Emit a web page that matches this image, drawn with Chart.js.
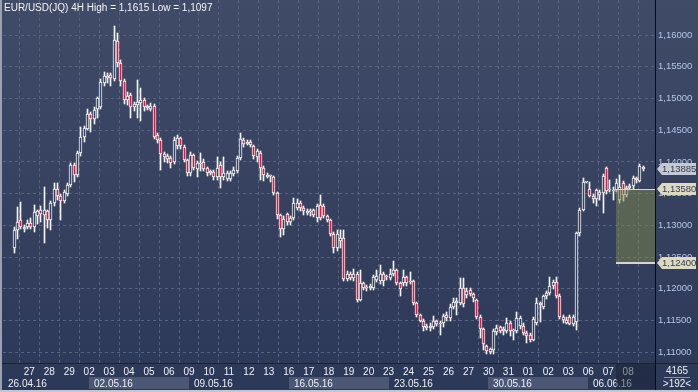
<!DOCTYPE html>
<html>
<head>
<meta charset="utf-8">
<script src="https://cdn.jsdelivr.net/npm/chart.js@4.4.1/dist/chart.umd.min.js"></script>
<style>
  html, body { margin: 0; padding: 0; background: #34405e; }
</style>
</head>
<body>
<canvas id="chart" width="698" height="392"></canvas>
<script>
// EUR/USD 4H, 26.04.16 - 08.06.16, bar index 1..190
const titleText = 'EUR/USD(JQ) 4H High = 1,1615 Low = 1,1097';

const opens = [
  1.1265, 1.1292, 1.1308, 1.1295, 1.1297, 1.1303, 1.1298, 1.1315, 1.1325, 1.1316,
  1.1322, 1.1309, 1.1335, 1.1357, 1.1347, 1.1338, 1.1350, 1.1364, 1.1395, 1.1380,
  1.1414, 1.1439, 1.1452, 1.1475, 1.1467, 1.1483, 1.1487, 1.1524, 1.1532, 1.1537,
  1.1530, 1.1590, 1.1556, 1.1527, 1.1498, 1.1505, 1.1487, 1.1490, 1.1493, 1.1498,
  1.1488, 1.1484, 1.1488, 1.1442, 1.1434, 1.1413, 1.1405, 1.1406, 1.1400, 1.1425,
  1.1437, 1.1424, 1.1403, 1.1383, 1.1411, 1.1389, 1.1398, 1.1400, 1.1390, 1.1383,
  1.1384, 1.1377, 1.1395, 1.1376, 1.1373, 1.1373, 1.1381, 1.1385, 1.1406, 1.1434,
  1.1428, 1.1432, 1.1425, 1.1408, 1.1414, 1.1390, 1.1377, 1.1378, 1.1376, 1.1351,
  1.1316, 1.1295, 1.1318, 1.1305, 1.1312, 1.1328, 1.1336, 1.1328, 1.1320, 1.1321,
  1.1324, 1.1311, 1.1332, 1.1331, 1.1314, 1.1308, 1.1286, 1.1265, 1.1276, 1.1280,
  1.1216, 1.1224, 1.1217, 1.1224, 1.1183, 1.1209, 1.1201, 1.1202, 1.1201, 1.1214,
  1.1212, 1.1224, 1.1218, 1.1217, 1.1224, 1.1230, 1.1209, 1.1209, 1.1218, 1.1210,
  1.1212, 1.1178, 1.1159, 1.1150, 1.1138, 1.1138, 1.1140, 1.1149, 1.1145, 1.1146,
  1.1159, 1.1154, 1.1172, 1.1178, 1.1178, 1.1201, 1.1190, 1.1198, 1.1192, 1.1182,
  1.1156, 1.1136, 1.1110, 1.1101, 1.1104, 1.1132, 1.1140, 1.1133, 1.1133, 1.1146,
  1.1133, 1.1133, 1.1141, 1.1141, 1.1131, 1.1128, 1.1120, 1.1146, 1.1177, 1.1172,
  1.1188, 1.1193, 1.1204, 1.1210, 1.1189, 1.1156, 1.1146, 1.1156, 1.1145, 1.1148,
  1.1288, 1.1325, 1.1368, 1.1357, 1.1347, 1.1341, 1.1352, 1.1351, 1.1390, 1.1355,
  1.1354, 1.1356, 1.1340, 1.1367, 1.1348, 1.1359, 1.1362, 1.1375, 1.1370, 1.1392
];
const highs = [
  1.1298, 1.1329, 1.1337, 1.1300, 1.1308, 1.1311, 1.1332, 1.1325, 1.1330, 1.1361,
  1.1325, 1.1338, 1.1367, 1.1366, 1.1350, 1.1355, 1.1367, 1.1398, 1.1398, 1.1418,
  1.1455, 1.1456, 1.1483, 1.1478, 1.1486, 1.1503, 1.1530, 1.1541, 1.1540, 1.1540,
  1.1615, 1.1603, 1.1560, 1.1530, 1.1510, 1.1508, 1.1495, 1.1529, 1.1516, 1.1500,
  1.1490, 1.1493, 1.1492, 1.1446, 1.1438, 1.1416, 1.1412, 1.1410, 1.1440, 1.1442,
  1.1440, 1.1426, 1.1405, 1.1415, 1.1413, 1.1401, 1.1414, 1.1405, 1.1392, 1.1388,
  1.1387, 1.1408, 1.1400, 1.1408, 1.1385, 1.1385, 1.1392, 1.1410, 1.1446, 1.1438,
  1.1434, 1.1434, 1.1427, 1.1420, 1.1417, 1.1393, 1.1382, 1.1380, 1.1378, 1.1353,
  1.1318, 1.1314, 1.1320, 1.1314, 1.1343, 1.1342, 1.1338, 1.1330, 1.1326, 1.1326,
  1.1326, 1.1333, 1.1348, 1.1334, 1.1316, 1.1310, 1.1290, 1.1292, 1.1292, 1.1292,
  1.1228, 1.1226, 1.1231, 1.1226, 1.1230, 1.1211, 1.1206, 1.1207, 1.1222, 1.1229,
  1.1237, 1.1226, 1.1222, 1.1232, 1.1244, 1.1232, 1.1211, 1.1230, 1.1220, 1.1227,
  1.1214, 1.1180, 1.1161, 1.1152, 1.1145, 1.1146, 1.1157, 1.1151, 1.1149, 1.1161,
  1.1163, 1.1176, 1.1186, 1.1186, 1.1217, 1.1217, 1.1201, 1.1202, 1.1194, 1.1184,
  1.1158, 1.1138, 1.1112, 1.1107, 1.1136, 1.1143, 1.1142, 1.1140, 1.1154, 1.1149,
  1.1136, 1.1164, 1.1157, 1.1146, 1.1133, 1.1130, 1.1156, 1.1185, 1.1180, 1.1191,
  1.1196, 1.1219, 1.1214, 1.1219, 1.1192, 1.1158, 1.1155, 1.1158, 1.1158, 1.1290,
  1.1328, 1.1375, 1.1369, 1.1368, 1.1350, 1.1357, 1.1355, 1.1381, 1.1392, 1.1372,
  1.1360, 1.1373, 1.1380, 1.1370, 1.1362, 1.1365, 1.1378, 1.1377, 1.1396, 1.1393
];
const lows = [
  1.1256, 1.1278, 1.1294, 1.1289, 1.1294, 1.1294, 1.1290, 1.1302, 1.1305, 1.1272,
  1.1296, 1.1293, 1.1330, 1.1340, 1.1308, 1.1335, 1.1346, 1.1360, 1.1368, 1.1376,
  1.1410, 1.1431, 1.1450, 1.1447, 1.1460, 1.1469, 1.1484, 1.1520, 1.1524, 1.1520,
  1.1527, 1.1550, 1.1520, 1.1492, 1.1490, 1.1469, 1.1480, 1.1469, 1.1465, 1.1480,
  1.1482, 1.1480, 1.1436, 1.1430, 1.1388, 1.1400, 1.1398, 1.1390, 1.1396, 1.1420,
  1.1420, 1.1400, 1.1378, 1.1378, 1.1387, 1.1376, 1.1385, 1.1385, 1.1378, 1.1380,
  1.1372, 1.1372, 1.1359, 1.1372, 1.1370, 1.1370, 1.1378, 1.1382, 1.1403, 1.1424,
  1.1426, 1.1424, 1.1404, 1.1400, 1.1372, 1.1370, 1.1374, 1.1368, 1.1348, 1.1310,
  1.1282, 1.1285, 1.1300, 1.1300, 1.1308, 1.1325, 1.1322, 1.1316, 1.1316, 1.1314,
  1.1313, 1.1306, 1.1309, 1.1312, 1.1305, 1.1283, 1.1257, 1.1260, 1.1265, 1.1212,
  1.1212, 1.1214, 1.1212, 1.1180, 1.1181, 1.1198, 1.1196, 1.1198, 1.1198, 1.1210,
  1.1208, 1.1205, 1.1214, 1.1214, 1.1221, 1.1206, 1.1188, 1.1205, 1.1204, 1.1207,
  1.1175, 1.1156, 1.1147, 1.1133, 1.1135, 1.1134, 1.1136, 1.1142, 1.1128, 1.1140,
  1.1150, 1.1150, 1.1168, 1.1159, 1.1175, 1.1172, 1.1186, 1.1188, 1.1180, 1.1152,
  1.1122, 1.1103, 1.1097, 1.1098, 1.1098, 1.1128, 1.1130, 1.1128, 1.1130, 1.1125,
  1.1120, 1.1130, 1.1136, 1.1127, 1.1115, 1.1116, 1.1118, 1.1143, 1.1148, 1.1168,
  1.1184, 1.1190, 1.1200, 1.1185, 1.1153, 1.1146, 1.1144, 1.1143, 1.1142, 1.1135,
  1.1284, 1.1322, 1.1367, 1.1344, 1.1336, 1.1330, 1.1340, 1.1320, 1.1350, 1.1352,
  1.1340, 1.1352, 1.1335, 1.1338, 1.1344, 1.1356, 1.1358, 1.1366, 1.1368, 1.1386
];
const closes = [
  1.1293, 1.1306, 1.1297, 1.1298, 1.1303, 1.1297, 1.1321, 1.1322, 1.1318, 1.1325,
  1.1309, 1.1335, 1.1357, 1.1346, 1.1338, 1.1352, 1.1364, 1.1395, 1.1380, 1.1414,
  1.1439, 1.1453, 1.1475, 1.1467, 1.1482, 1.1500, 1.1526, 1.1535, 1.1536, 1.1532,
  1.1592, 1.1556, 1.1527, 1.1498, 1.1504, 1.1487, 1.1491, 1.1494, 1.1498, 1.1487,
  1.1485, 1.1488, 1.1440, 1.1434, 1.1412, 1.1408, 1.1409, 1.1399, 1.1435, 1.1437,
  1.1425, 1.1403, 1.1383, 1.1411, 1.1390, 1.1398, 1.1396, 1.1389, 1.1382, 1.1385,
  1.1376, 1.1391, 1.1376, 1.1383, 1.1382, 1.1382, 1.1388, 1.1406, 1.1436, 1.1428,
  1.1431, 1.1426, 1.1409, 1.1418, 1.1390, 1.1380, 1.1380, 1.1378, 1.1351, 1.1316,
  1.1295, 1.1310, 1.1306, 1.1312, 1.1335, 1.1336, 1.1328, 1.1322, 1.1323, 1.1323,
  1.1316, 1.1330, 1.1312, 1.1315, 1.1308, 1.1286, 1.1265, 1.1287, 1.1280, 1.1215,
  1.1224, 1.1217, 1.1224, 1.1183, 1.1209, 1.1201, 1.1203, 1.1204, 1.1219, 1.1220,
  1.1224, 1.1213, 1.1218, 1.1224, 1.1230, 1.1209, 1.1199, 1.1218, 1.1209, 1.1212,
  1.1178, 1.1159, 1.1150, 1.1140, 1.1142, 1.1142, 1.1149, 1.1145, 1.1146, 1.1157,
  1.1154, 1.1172, 1.1180, 1.1181, 1.1201, 1.1176, 1.1196, 1.1192, 1.1185, 1.1156,
  1.1136, 1.1113, 1.1102, 1.1105, 1.1134, 1.1139, 1.1133, 1.1137, 1.1146, 1.1133,
  1.1134, 1.1154, 1.1154, 1.1130, 1.1125, 1.1120, 1.1153, 1.1177, 1.1175, 1.1188,
  1.1193, 1.1204, 1.1210, 1.1188, 1.1156, 1.1151, 1.1151, 1.1145, 1.1156, 1.1288,
  1.1325, 1.1368, 1.1368, 1.1346, 1.1341, 1.1356, 1.1348, 1.1378, 1.1354, 1.1357,
  1.1356, 1.1367, 1.1361, 1.1348, 1.1359, 1.1362, 1.1375, 1.1371, 1.1393, 1.13885
];

const dayLabels = ['27', '28', '29', '02', '03', '04', '05', '06', '09', '10', '11', '12', '13', '16', '17', '18',
  '19', '20', '23', '24', '25', '26', '27', '30', '31', '01', '02', '03', '06', '07', '08'];
const dayStarts = [6, 12, 18, 24, 30, 36, 42, 48, 54, 60, 66, 72, 78, 84, 90, 96,
  102, 108, 114, 120, 126, 132, 138, 144, 150, 156, 162, 168, 174, 180, 186];
const weekLabels = ['26.04.16', '02.05.16', '09.05.16', '16.05.16', '23.05.16', '30.05.16', '06.06.16'];
const weekStarts = [1, 24, 54, 84, 114, 144, 174];
const priceTicks = [1.110, 1.115, 1.120, 1.125, 1.130, 1.135, 1.140, 1.145, 1.150, 1.155, 1.160];

const lastPrice = 1.13885;
const zoneTop = 1.1358;
const zoneBottom = 1.1240;
const zoneFrom = 181.7;
const barCount = '4165';
const visibleBars = '>192<';

const FONT = "'Liberation Sans', Arial, sans-serif";
const fmt = v => v.toFixed(5).replace('.', ',');

const cv = document.getElementById('chart');
const g = cv.getContext('2d');
const bgGrad = g.createLinearGradient(0, 0, 0, 392);
bgGrad.addColorStop(0, '#3f4b67');
bgGrad.addColorStop(1, '#2c3857');

const wicks = highs.map((h, i) => ({ x: i + 1, y: [lows[i], h] }));
const bodies = opens.map((o, i) => ({ x: i + 1, y: [o, closes[i]] }));
const bodyFill = opens.map((o, i) => closes[i] < o ? '#e3163f' : bgGrad);

// snap the bars to whole pixels so the thin candles stay crisp
const snapBars = {
  id: 'snapBars',
  afterDatasetsUpdate(chart) {
    chart.data.datasets.forEach((ds, di) => {
      chart.getDatasetMeta(di).data.forEach(el => {
        el.x = Math.floor(el.x) + 0.5;
        let top = Math.round(Math.min(el.y, el.base));
        let bot = Math.round(Math.max(el.y, el.base));
        if (bot - top < 1) bot = top + 1;
        el.y = top;
        el.base = bot;
      });
    });
  }
};

const decor = {
  id: 'decor',
  beforeDraw(chart) {
    const c = chart.ctx;
    c.save();
    c.fillStyle = bgGrad;
    c.fillRect(0, 0, chart.width, chart.height);
    c.restore();
  },
  afterDatasetsDraw(chart) {
    const { ctx: c, chartArea: a, scales: { x, y } } = chart;
    const left = Math.round(x.getPixelForValue(zoneFrom));
    const top = Math.round(y.getPixelForValue(zoneTop));
    const bottom = Math.round(y.getPixelForValue(zoneBottom));
    c.save();
    c.fillStyle = 'rgba(128,136,76,0.5)';
    c.fillRect(left, top, a.right - left, bottom - top);
    c.fillStyle = '#d8d8c8';
    c.fillRect(left, top, a.right - left, 1);
    c.fillRect(left, bottom - 1, a.right - left, 2);
    c.restore();
  },
  afterDraw(chart) {
    const { ctx: c, chartArea: a, scales: { x, y } } = chart;
    const W = chart.width, H = chart.height;
    const px = i => x.getPixelForValue(i - 0.5);
    c.save();
    c.font = '10px ' + FONT;
    c.textBaseline = 'middle';

    // week boxes
    weekStarts.forEach((s, w) => {
      const x0 = w === 0 ? a.left : Math.round(px(s));
      const x1 = w + 1 < weekStarts.length ? Math.round(px(weekStarts[w + 1])) : a.right;
      if (w % 2 === 1) {
        c.fillStyle = '#4b5774';
        c.fillRect(x0, 377, x1 - x0, 12);
      }
      c.fillStyle = '#eef0f4';
      c.textAlign = 'left';
      c.fillText(weekLabels[w], x0 + 5, 384);
    });

    // day numbers
    c.textAlign = 'center';
    dayStarts.forEach((s, d) => {
      c.fillStyle = '#eef0f4';
      c.fillText(dayLabels[d], px(s), 372);
    });

    // zone shadow on the time axis
    const zl = Math.round(x.getPixelForValue(zoneFrom));
    c.fillStyle = 'rgba(24,30,48,0.45)';
    c.fillRect(zl, 364, a.right - zl, 25);

    // separators
    c.fillStyle = '#1b2233';
    c.fillRect(0, a.bottom, W, 1);
    c.fillStyle = '#0c0c10';
    c.fillRect(a.right, 0, 1, H);

    // bars info box
    c.fillStyle = '#eef0f4';
    c.fillText(barCount, 677, 371);
    c.fillText(visibleBars, 677, 384);
    c.fillStyle = '#8792aa';
    c.fillRect(664, 377, 26, 1);

    // price tags
    c.font = '9.5px ' + FONT;
    const tag = (v, fill) => {
      const ty = Math.round(y.getPixelForValue(v));
      const tx = a.right + 2;
      c.fillStyle = fill;
      c.beginPath();
      c.moveTo(tx, ty);
      c.lineTo(tx + 5, ty - 6);
      c.lineTo(tx + 39, ty - 6);
      c.lineTo(tx + 39, ty + 6);
      c.lineTo(tx + 5, ty + 6);
      c.closePath();
      c.fill();
      c.fillStyle = '#313b55';
      c.textAlign = 'left';
      c.fillText(fmt(v), tx + 5, ty + 0.5);
    };
    tag(lastPrice, '#c5c9d1');
    tag(zoneTop, '#dedac0');
    tag(zoneBottom, '#dedac0');

    // title
    c.font = '10px ' + FONT;
    c.fillStyle = '#f4f4f4';
    c.textAlign = 'left';
    c.fillText(titleText, 4, 8);

    // frame
    c.fillStyle = '#9aa1b0';
    c.fillRect(0, 0, 2, H);
    c.fillStyle = '#c2c6ce';
    c.fillRect(0, H - 2, W, 2);
    c.restore();
  }
};

new Chart(cv, {
  type: 'bar',
  data: {
    datasets: [
      {
        label: 'wick', data: wicks, backgroundColor: '#f4f4f4', borderWidth: 0,
        barThickness: 1, minBarLength: 1, grouped: false, order: 2
      },
      {
        label: 'body', data: bodies, backgroundColor: bodyFill, borderColor: '#f4f4f4',
        borderWidth: 1, borderSkipped: false, barThickness: 3, minBarLength: 1,
        grouped: false, order: 1
      }
    ]
  },
  options: {
    responsive: false,
    animation: false,
    events: [],
    layout: { padding: { left: 3, top: 0, right: 0, bottom: 0 } },
    plugins: { legend: { display: false }, tooltip: { enabled: false } },
    scales: {
      x: {
        type: 'linear',
        min: 0.76,
        max: 190.4,
        afterFit: s => { s.height = 29; s.paddingLeft = 0; s.paddingRight = 0; },
        afterBuildTicks: s => { s.ticks = dayStarts.map(i => ({ value: i - 0.5 })); },
        ticks: { display: false },
        grid: { color: '#56627f', drawTicks: false },
        border: { display: false, dash: [3, 3] }
      },
      y: {
        position: 'right',
        min: 1.10831,
        max: 1.16552,
        afterFit: s => { s.width = 43; s.paddingTop = 0; s.paddingBottom = 0; },
        afterBuildTicks: s => { s.ticks = priceTicks.map(v => ({ value: v })); },
        ticks: {
          color: '#b3c6ea',
          padding: 3,
          font: { family: FONT, size: 9.5 },
          callback: v => fmt(v)
        },
        grid: { color: '#56627f', drawTicks: false },
        border: { display: false, dash: [3, 3] }
      }
    }
  },
  plugins: [snapBars, decor]
});
</script>
</body>
</html>
